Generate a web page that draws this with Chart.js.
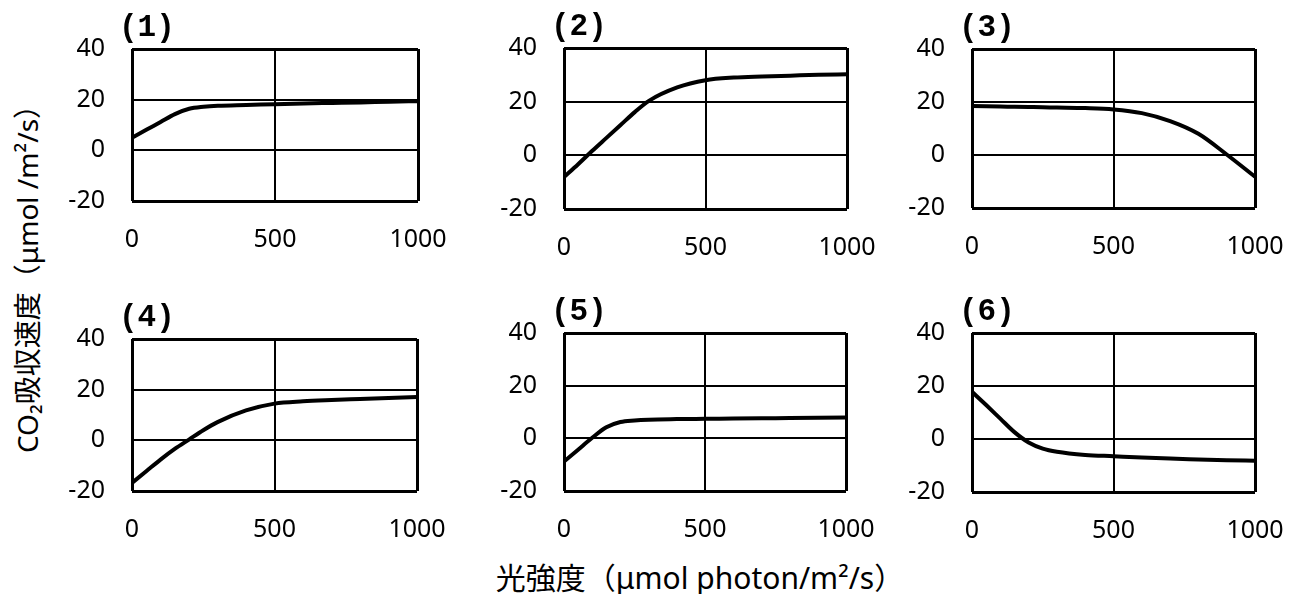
<!DOCTYPE html>
<html>
<head>
<meta charset="utf-8">
<script src="https://cdn.jsdelivr.net/npm/chart.js@4"></script>
<style>
  body { margin: 0; background: #fff; }
  #page { position: relative; width: 1292px; height: 594px; overflow: hidden; }
  .panel { position: absolute; }
  .axis-title {
    position: absolute; text-align: center; color: #000;
    font-family: "Noto Sans", "Noto Sans CJK JP", sans-serif;
    line-height: 36px; white-space: nowrap;
  }
  #ytitle { font-size: 28px; width: 420px; height: 36px; left: -183px; top: 254px; transform: rotate(-90deg); }
  #xtitle { font-size: 30px; width: 500px; height: 36px; left: 450px; top: 560px; }
</style>
</head>
<body>
<div id="page">
  <div class="axis-title" id="ytitle">CO₂吸収速度（μmol /m²/s）</div>
  <div class="axis-title" id="xtitle">光強度（μmol photon/m²/s）</div>
</div>
<script>
// light intensity (x) shared by all panels
let light = [0, 50, 100, 150, 200, 250, 300, 400, 500, 600, 700, 800, 900, 1000];

let panelLabels = ['(1)', '(2)', '(3)', '(4)', '(5)', '(6)'];

let rate1 = [5, 8.1, 11.2, 14.3, 16.4, 17.2, 17.6, 17.9, 18.2, 18.5, 18.7, 18.9, 19.2, 19.4];
let rate2 = [-8.1, -3.3, 1.7, 6.5, 11.3, 16.1, 20.3, 25.3, 28, 29, 29.4, 29.7, 30, 30.2];
let rate3 = [18.5, 18.4, 18.3, 18.2, 18.1, 18, 17.9, 17.7, 17.2, 15.8, 12.8, 8, 0.2, -8.2];
let rate4 = [-16.8, -12.2, -7.6, -3.4, 0.3, 4, 7.2, 11.8, 14.5, 15.4, 15.9, 16.3, 16.7, 17.1];
let rate5 = [-8.8, -4.3, 0.2, 4.2, 6.2, 6.8, 7.1, 7.3, 7.4, 7.5, 7.6, 7.7, 7.8, 7.9];
let rate6 = [17.8, 12.8, 7.7, 2.6, -1.3, -3.6, -4.8, -6, -6.5, -7, -7.4, -7.7, -8, -8.2];

let yTicks = [-20, 0, 20, 40];
let xTicks = [0, 500, 1000];

let rates = [rate1, rate2, rate3, rate4, rate5, rate6];

// plot area of each panel on the page: left, top, right, bottom
let plotRects = [
  [132, 49, 418, 201], [564, 48, 847, 209], [972, 49, 1255, 208],
  [132, 339, 417, 491], [564, 333, 846, 491], [972, 333, 1255, 492]
];

const Y_W = 70, X_H = 55, PAD_TOP = 45, PAD_RIGHT = 40;

const panelLabel = {
  id: 'panelLabel',
  afterDraw(chart, args, opts) {
    let a = chart.chartArea;
    let ctx = chart.ctx;
    ctx.save();
    ctx.font = 'bold 31px "Liberation Mono", monospace';
    ctx.fillStyle = '#000';
    ctx.textBaseline = 'middle';
    ctx.textAlign = 'left';
    ctx.fillText(opts.text, a.left - 13, a.top - 21);
    ctx.restore();
  }
};

function edgeWidth(min, max) {
  return function(c) {
    if (c.tick && (c.tick.value === min || c.tick.value === max)) return 3;
    return 2;
  };
}

rates.forEach(function(rate, i) {
  let r = plotRects[i];
  let box = document.createElement('div');
  box.className = 'panel';
  let w = (r[2] - r[0]) + Y_W + PAD_RIGHT;
  let h = (r[3] - r[1]) + PAD_TOP + X_H;
  box.style.left = (r[0] - Y_W) + 'px';
  box.style.top = (r[1] - PAD_TOP) + 'px';
  box.style.width = w + 'px';
  box.style.height = h + 'px';
  let canvas = document.createElement('canvas');
  canvas.width = w;
  canvas.height = h;
  box.appendChild(canvas);
  document.getElementById('page').appendChild(box);

  new Chart(canvas, {
    type: 'line',
    data: {
      datasets: [{
        data: light.map(function(x, j) { return { x: x, y: rate[j] }; }),
        borderColor: '#000',
        borderWidth: 4,
        pointRadius: 0,
        cubicInterpolationMode: 'monotone'
      }]
    },
    options: {
      responsive: false,
      animation: false,
      layout: { padding: { top: PAD_TOP, right: PAD_RIGHT, left: 0, bottom: 0 } },
      plugins: {
        legend: { display: false },
        tooltip: { enabled: false },
        panelLabel: { text: panelLabels[i] }
      },
      scales: {
        x: {
          type: 'linear',
          min: xTicks[0], max: xTicks[xTicks.length - 1],
          afterBuildTicks: function(s) { s.ticks = xTicks.map(function(v) { return { value: v }; }); },
          afterFit: function(s) { s.height = X_H; s.paddingLeft = 0; s.paddingRight = 0; },
          ticks: {
            color: '#000', padding: 24, maxRotation: 0,
            font: { family: '"Noto Sans", sans-serif', size: 25 },
            callback: function(v) { return String(v); }
          },
          grid: { color: '#000', lineWidth: edgeWidth(xTicks[0], xTicks[xTicks.length - 1]), drawTicks: false },
          border: { display: false }
        },
        y: {
          min: yTicks[0], max: yTicks[yTicks.length - 1],
          afterBuildTicks: function(s) { s.ticks = yTicks.map(function(v) { return { value: v }; }); },
          afterFit: function(s) { s.width = Y_W; s.paddingTop = 0; s.paddingBottom = 0; },
          ticks: { color: '#000', padding: 27, font: { family: '"Noto Sans", sans-serif', size: 25 } },
          grid: { color: '#000', lineWidth: edgeWidth(yTicks[0], yTicks[yTicks.length - 1]), drawTicks: false },
          border: { display: false }
        }
      }
    },
    plugins: [panelLabel]
  });
});
</script>
</body>
</html>
